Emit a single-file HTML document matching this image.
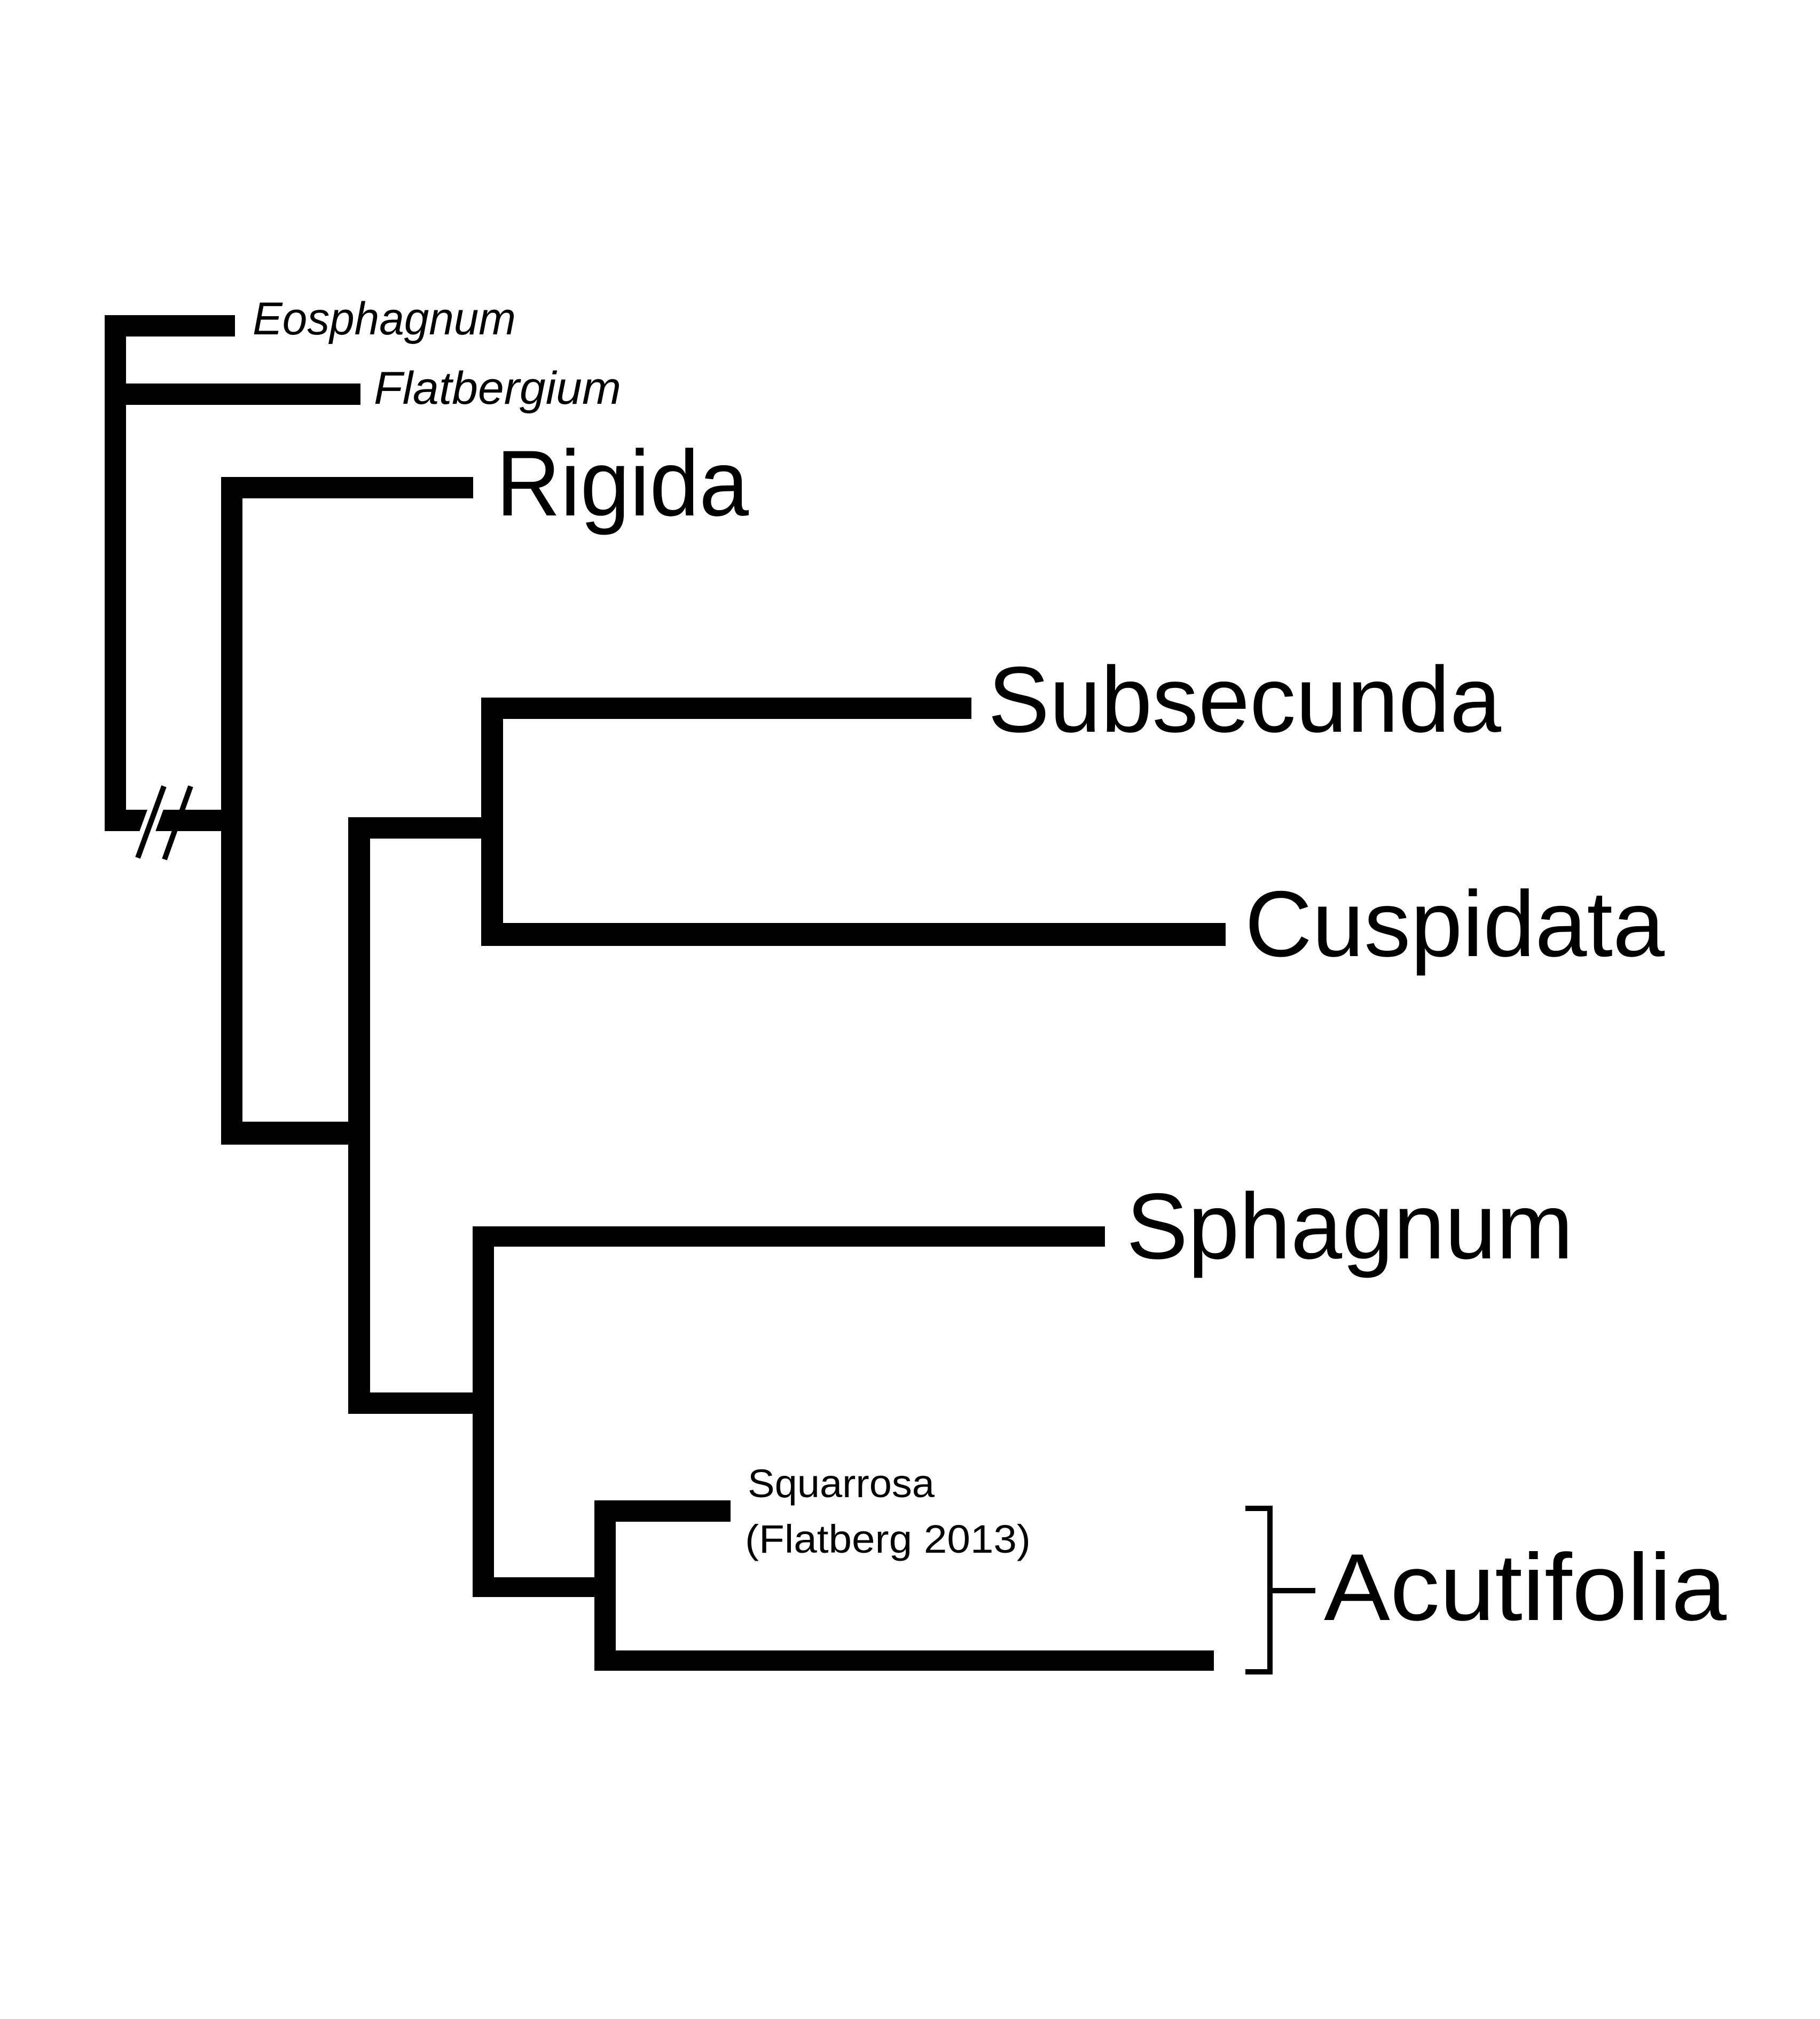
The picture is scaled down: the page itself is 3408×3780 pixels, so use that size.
<!DOCTYPE html>
<html><head><meta charset="utf-8"><style>html,body{margin:0;padding:0;background:#fff}svg{display:block}</style></head>
<body>
<svg width="3408" height="3780" viewBox="0 0 3408 3780" xmlns="http://www.w3.org/2000/svg" font-family="'Liberation Sans', sans-serif">
<rect width="3408" height="3780" fill="#fff"/>
<g fill="#000">
<!-- root -->
<rect x="196" y="590" width="40" height="966"/>
<rect x="196" y="590" width="244" height="40"/>
<rect x="196" y="718" width="479" height="40"/>
<rect x="196" y="1516" width="218" height="40"/>
<!-- Rigida clade -->
<rect x="414" y="893" width="40" height="1250"/>
<rect x="414" y="893" width="472" height="40"/>
<rect x="414" y="2100" width="238" height="43"/>
<!-- inner -->
<rect x="652" y="1530" width="41" height="1117"/>
<rect x="652" y="1530" width="249" height="40"/>
<rect x="901" y="1306" width="41" height="465"/>
<rect x="901" y="1306" width="918" height="40"/>
<rect x="901" y="1728" width="1394" height="43"/>
<rect x="652" y="2607" width="233" height="40"/>
<rect x="885" y="2296" width="40" height="694"/>
<rect x="885" y="2296" width="1184" height="38"/>
<rect x="885" y="2953" width="268" height="37"/>
<rect x="1113" y="2809" width="40" height="319"/>
<rect x="1113" y="2809" width="255" height="40"/>
<rect x="1113" y="3090" width="1160" height="38"/>
</g>
<!-- break marks -->
<line x1="307" y1="1472" x2="258" y2="1606" stroke="#fff" stroke-width="28"/>
<line x1="307" y1="1472" x2="258" y2="1606" stroke="#000" stroke-width="10"/>
<line x1="357" y1="1472" x2="308" y2="1609" stroke="#000" stroke-width="10"/>
<!-- bracket -->
<path d="M2332 2824 H2378 V3130 H2332 M2378 2978 H2463" fill="none" stroke="#000" stroke-width="10"/>
<g fill="#000">
<text x="473" y="626" font-size="86" font-style="italic" textLength="493" lengthAdjust="spacingAndGlyphs">Eosphagnum</text>
<text x="700" y="756" font-size="86" font-style="italic" textLength="463" lengthAdjust="spacingAndGlyphs">Flatbergium</text>
<text x="929" y="965" font-size="175" textLength="473" lengthAdjust="spacingAndGlyphs">Rigida</text>
<text x="1850" y="1370" font-size="175" textLength="961" lengthAdjust="spacingAndGlyphs">Subsecunda</text>
<text x="2331" y="1790" font-size="175" textLength="786" lengthAdjust="spacingAndGlyphs">Cuspidata</text>
<text x="2109" y="2356" font-size="175" textLength="837" lengthAdjust="spacingAndGlyphs">Sphagnum</text>
<text x="1400" y="2803" font-size="74" textLength="350" lengthAdjust="spacingAndGlyphs">Squarrosa</text>
<text x="1395" y="2907" font-size="74" textLength="535" lengthAdjust="spacingAndGlyphs">(Flatberg 2013)</text>
<text x="2479" y="3033" font-size="178" textLength="754" lengthAdjust="spacingAndGlyphs">Acutifolia</text>
</g>
</svg>
</body></html>
